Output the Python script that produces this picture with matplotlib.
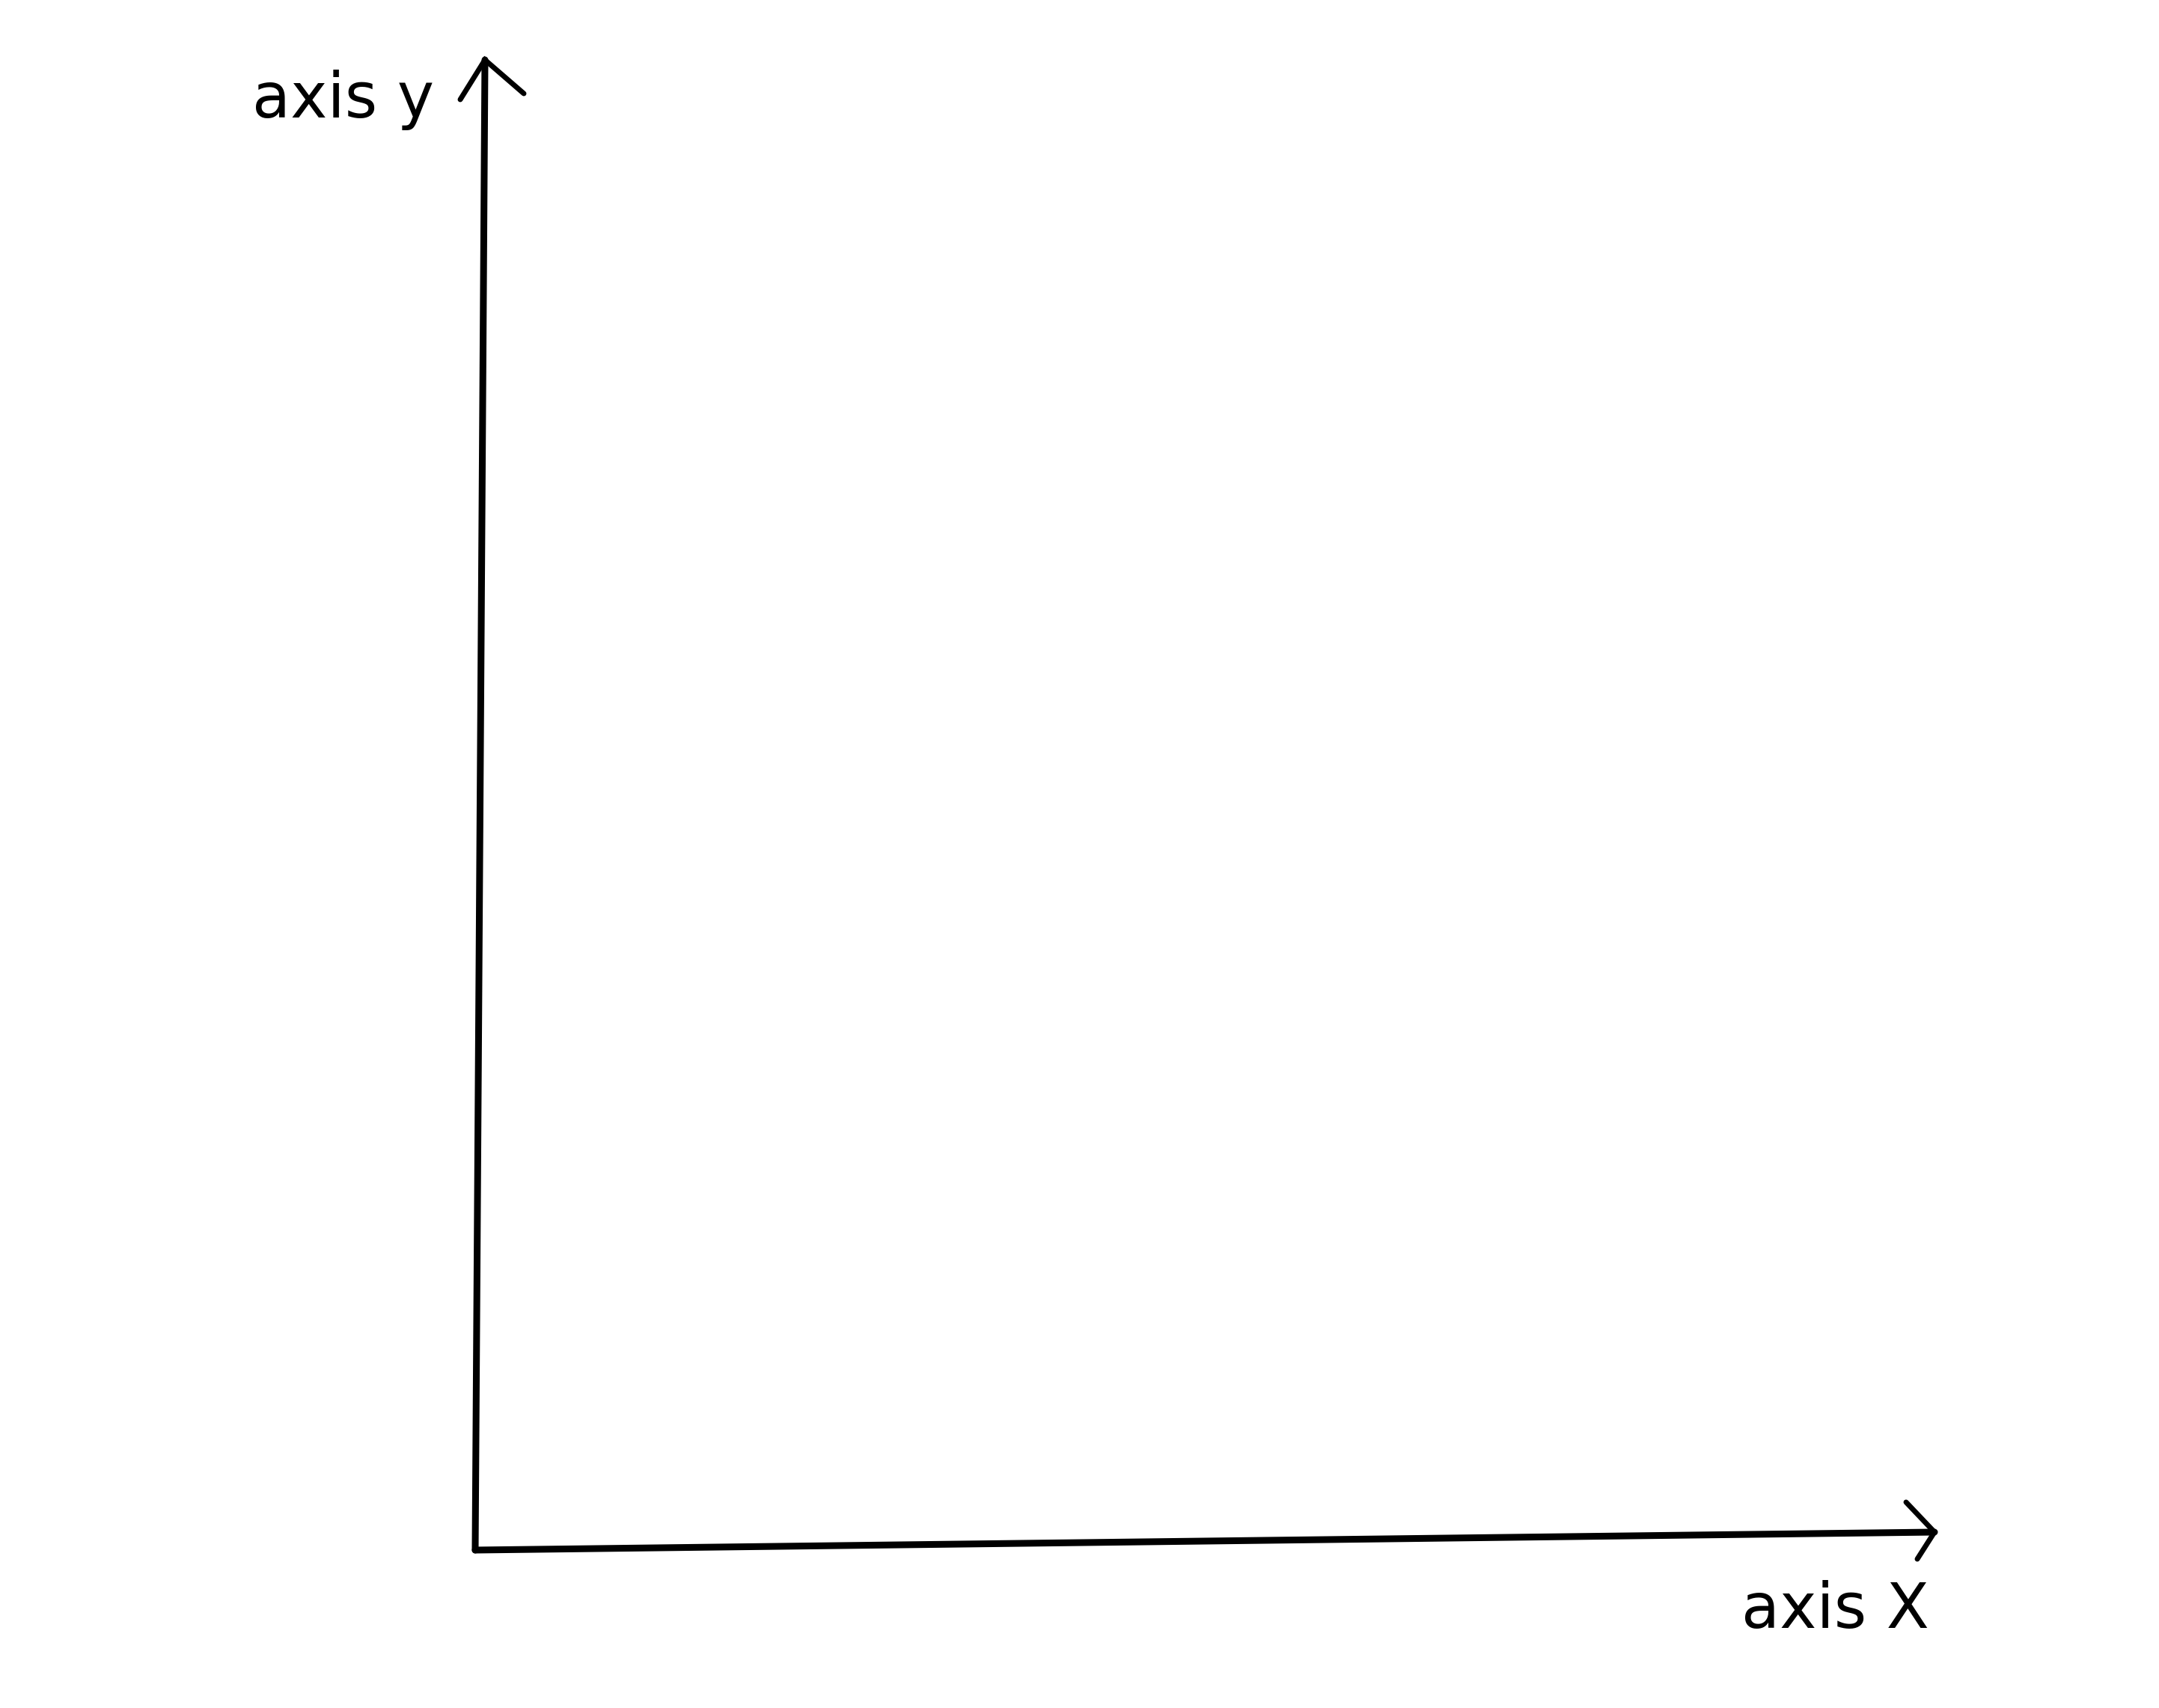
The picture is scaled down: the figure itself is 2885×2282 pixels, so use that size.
import matplotlib
matplotlib.use("Agg")
import matplotlib.pyplot as plt

# Sketch content (pixel coordinates of the hand-drawn axes, origin top-left)
x_label = "axis X"
y_label = "axis y"
origin = (635, 2071)
y_tip = (648, 80)
x_tip = (2585, 2047)
y_head = [(615, 133), y_tip, (700, 125)]
x_head = [(2547, 2007), x_tip, (2562, 2083)]
y_label_pos = (337, 157)
x_label_pos = (2327, 2175)

W, H = 2885, 2282
fig = plt.figure(figsize=(W / 100, H / 100), dpi=100)
ax = fig.add_axes([0, 0, 1, 1])
ax.set_xlim(0, W)
ax.set_ylim(H, 0)
ax.axis("off")

lw = 6.5
ax.plot([origin[0], y_tip[0]], [origin[1], y_tip[1]], color="black", lw=lw,
        solid_capstyle="round", solid_joinstyle="round")
ax.plot([origin[0], x_tip[0]], [origin[1], x_tip[1]], color="black", lw=lw,
        solid_capstyle="round", solid_joinstyle="round")
for head in (y_head, x_head):
    xs = [p[0] for p in head]
    ys = [p[1] for p in head]
    ax.plot(xs, ys, color="black", lw=5, solid_capstyle="round",
            solid_joinstyle="miter")

ax.text(y_label_pos[0], y_label_pos[1], y_label, fontsize=60,
        family="DejaVu Sans", va="baseline", ha="left", color="black")
ax.text(x_label_pos[0], x_label_pos[1], x_label, fontsize=60,
        family="DejaVu Sans", va="baseline", ha="left", color="black")

fig.savefig("out.png", dpi=100, facecolor="white")
